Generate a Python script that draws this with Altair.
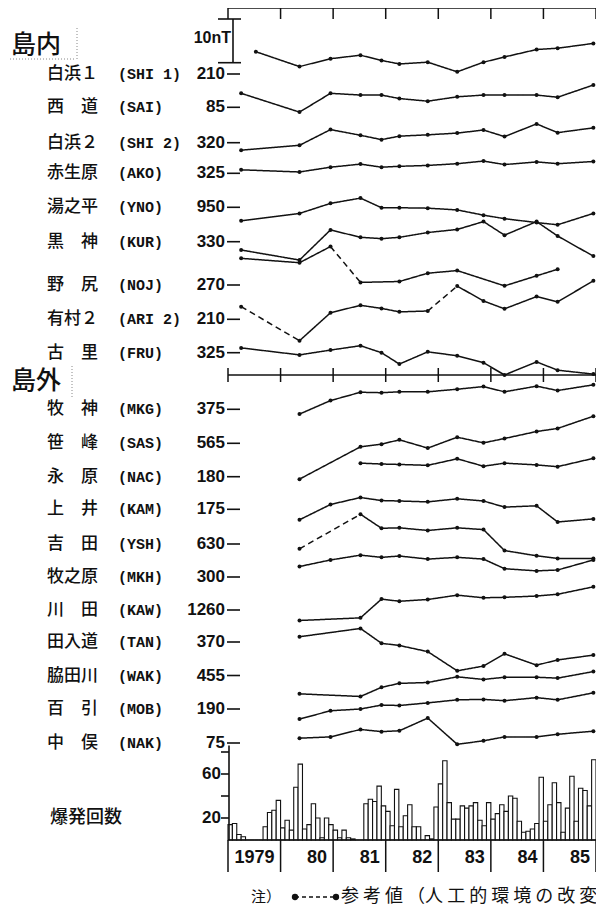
import altair as alt
import pandas as pd

# ---------------- data ----------------
# survey epochs (decimal years)
DATES = [1979.25, 1979.53, 1980.36, 1980.95, 1981.52, 1981.92, 1982.26, 1982.80,
         1983.36, 1983.86, 1984.26, 1984.87, 1985.27, 1985.95]

NAMES = ["白浜１", "西　道", "白浜２", "赤生原", "湯之平", "黒　神", "野　尻", "有村２", "古　里",
         "牧　神", "笹　峰", "永　原", "上　井", "吉　田", "牧之原", "川　田", "田入道", "脇田川",
         "百　引", "中　俣"]
CODES = ["(SHI 1)", "(SAI)", "(SHI 2)", "(AKO)", "(YNO)", "(KUR)", "(NOJ)", "(ARI 2)", "(FRU)",
         "(MKG)", "(SAS)", "(NAC)", "(KAM)", "(YSH)", "(MKH)", "(KAW)", "(TAN)", "(WAK)",
         "(MOB)", "(NAK)"]
BASE = [210, 85, 320, 325, 950, 330, 270, 210, 325,
        375, 565, 180, 175, 630, 300, 1260, 370, 455, 190, 75]

N = None
SHI1 = [N, 215.1, 211.7, 213.5, 214.3, 213.1, 212.3, 212.7, 210.5, 212.7, 213.9, 215.6, 215.9, 217.0]
SAI = [88.2, N, 83.9, 88.2, 87.8, 87.8, 87.0, 86.4, 87.4, 87.8, 87.8, 87.8, 87.3, 90.1]
SHI2 = [318.3, N, 319.4, 323.0, 321.7, 320.7, 321.5, 321.8, 322.2, 322.9, 321.4, 324.3, 322.3, 323.4]
AKO = [325.8, N, 325.3, 326.4, 327.1, 326.4, 326.6, 326.8, 327.2, 327.8, 327.0, 327.6, 327.2, 327.7]
YNO = [946.9, N, 948.6, 950.9, 952.1, 949.9, 949.9, 949.8, 949.4, 948.2, 947.4, 946.5, 946.0, 948.6]
KUR = [328.1, N, 325.8, 332.7, 331.0, 330.7, 331.0, 332.1, 332.8, 334.6, 331.5, 334.6, 331.3, 326.7]
NOJ = [276.1, N, 275.1, 278.8, 270.6, N, 270.8, 272.7, 273.3, N, 269.8, 272.1, 273.6, N]
ARI2 = [212.9, N, 205.1, 211.5, 213.2, 212.5, 211.7, 211.9, 217.6, 214.2, 212.4, 215.2, 214.0, 218.8]
FRU = [326.1, N, 324.5, 325.6, 326.6, 325.0, 322.4, 325.2, 324.3, 322.7, 319.9, 322.9, 321.0, 320.1]
MKG = [N, N, 373.9, 377.0, 378.9, 378.8, 379.0, 379.0, 379.6, 380.2, 379.0, 380.3, 379.3, 380.6]
SAS = [N, N, 556.8, N, 564.2, 564.8, 565.8, 563.9, 566.4, 565.1, 566.1, 567.7, 568.4, 571.2]
NAC = [N, N, N, N, 183.1, 182.9, 182.8, 182.6, 184.1, 182.4, 183.1, 182.7, 182.3, 184.2]
KAM = [N, N, 172.6, 176.1, 177.7, 177.0, 176.9, 176.7, 177.4, 176.9, 175.5, 175.8, 172.1, 172.8]
YSH = [N, N, 628.9, N, 636.8, 633.6, 633.7, 633.1, 633.7, 633.3, 628.5, 627.3, 626.7, 626.7]
MKH = [N, N, 302.4, 303.9, 305.0, 304.5, 304.8, 304.1, 304.5, 304.1, 301.9, 301.4, 301.6, 303.9]
KAW = [N, N, 1257.6, N, 1258.2, 1262.5, 1262.0, 1262.4, 1263.4, 1262.8, 1262.9, 1263.2, 1263.6, 1265.3]
TAN = [N, N, 371.2, N, 373.1, 369.7, 369.2, 367.8, 363.4, 364.5, 367.3, 364.7, 365.9, 367.0]
WAK = [N, N, 450.8, N, 450.2, 452.3, 453.2, 453.4, 454.7, 454.1, 454.6, 454.6, 454.4, 455.9]
MOB = [N, N, 187.7, 189.6, 190.0, 190.9, 190.8, 191.4, 192.1, 192.2, 191.9, 192.6, 192.1, 193.7]
NAK = [N, N, 76.1, 76.4, 78.1, 77.6, 77.8, 80.7, 74.7, 75.5, 76.4, 76.4, 77.0, 77.7]

SERIES = [SHI1, SAI, SHI2, AKO, YNO, KUR, NOJ, ARI2, FRU,
          MKG, SAS, NAC, KAM, YSH, MKH, KAW, TAN, WAK, MOB, NAK]
# reference-value (dashed) intervals: station index -> list of (from epoch, to epoch)
DASHED = {6: [(3, 4)], 7: [(0, 2), (7, 8)], 13: [(2, 4)]}

# monthly explosion counts
C1979 = [14, 15, 5, 3, 0, 0, 0, 0, 12, 25, 27, 36]
C1980 = [11, 18, 9, 48, 69, 10, 14, 33, 20, 2, 20, 14]
C1981 = [9, 2, 9, 2, 1, 0, 0, 33, 37, 35, 49, 31]
C1982 = [26, 13, 46, 12, 22, 32, 12, 12, 0, 4, 1, 30]
C1983 = [51, 72, 34, 19, 19, 31, 29, 31, 34, 18, 13, 34]
C1984 = [19, 24, 32, 26, 40, 38, 17, 7, 8, 10, 15, 57]
C1985 = [17, 32, 52, 34, 7, 29, 58, 17, 47, 45, 31, 73]
COUNTS = C1979 + C1980 + C1981 + C1982 + C1983 + C1984 + C1985

YEARS = [1979, 1980, 1981, 1982, 1983, 1984, 1985, 1986]
YEAR_LABELS = ["1979", "80", "81", "82", "83", "84", "85"]
COUNT_TICKS = [20, 40, 60, 80]
COUNT_TICK_LABELS = ["20", "", "60", ""]
SCALE_NT = 10

# ---------------- layout ----------------
PAD_L = 220
W, H = 368, 864
PX_NT = 4.37            # pixels per nT
ROW_Y = [66, 99.3, 134.7, 165.3, 199.3, 233.7, 277, 311.3, 344.7,
         401.3, 435.3, 468.7, 501.3, 536, 569, 602, 634, 667.5, 701, 735]
MID_AXIS_Y = 367
BAR_BASE = 832
PX_CNT = 1.1

NT_SCALE = alt.Scale(domain=[-H / PX_NT, 0], nice=False, zero=False)
CNT_SCALE = alt.Scale(domain=[(BAR_BASE - H) / PX_CNT, BAR_BASE / PX_CNT], nice=False, zero=False)
X_SCALE = alt.Scale(domain=[1979, 1986], nice=False, zero=False)

row_nt = [-r / PX_NT for r in ROW_Y]

# ---------------- tables ----------------
line_rows, pt_rows = [], []
seg = 0
for s, vals in enumerate(SERIES):
    yv = lambda i: (vals[i] - BASE[s]) + row_nt[s]
    idx = [i for i, v in enumerate(vals) if v is not None]
    for i in idx:
        pt_rows.append(dict(st=CODES[s], t=DATES[i], y=yv(i)))
    cur = None
    for a, b in zip(idx[:-1], idx[1:]):
        kind = "dashed" if (a, b) in DASHED.get(s, []) else "solid"
        if kind != cur:
            seg += 1
            cur = kind
            line_rows.append(dict(seg=seg, kind=kind, t=DATES[a], y=yv(a)))
        line_rows.append(dict(seg=seg, kind=kind, t=DATES[b], y=yv(b)))
lines_df = pd.DataFrame(line_rows)
pts_df = pd.DataFrame(pt_rows)

st_df = pd.DataFrame(dict(name=NAMES, code=CODES, lab=[str(b) for b in BASE], row=row_nt))

bars_df = pd.DataFrame(dict(
    t0=[1979 + i / 12 for i in range(len(COUNTS))],
    t1=[1979 + (i + 1) / 12 for i in range(len(COUNTS))],
    n=COUNTS, zero=[0] * len(COUNTS)))

years_df = pd.DataFrame(dict(yr=YEARS))
ylab_df = pd.DataFrame(dict(yr=[y + 1 for y in YEARS[:-1]], lab=YEAR_LABELS))
span_df = pd.DataFrame(dict(a=[YEARS[0]], b=[YEARS[-1]], zero=[0], top=[86]))
cticks_df = pd.DataFrame(dict(v=COUNT_TICKS, lab=COUNT_TICK_LABELS))
scale_top = -11 / PX_NT
scalebar_df = pd.DataFrame(dict(y1=[scale_top], y2=[scale_top - SCALE_NT]))
caps_df = pd.DataFrame(dict(y=[scale_top, scale_top - SCALE_NT]))
one = pd.DataFrame(dict(a=[0]))

X = lambda f: alt.X(f, scale=X_SCALE, axis=None)
YN = lambda f: alt.Y(f, scale=NT_SCALE, axis=None)
YC = lambda f: alt.Y(f, scale=CNT_SCALE, axis=None)
SANS = "Liberation Sans"
CJK = "Noto Sans CJK JP"
INK = "#111111"

layers = []

# series lines and points
layers.append(alt.Chart(lines_df).mark_line(color=INK, strokeWidth=1.5).encode(
    x=X("t:Q"), y=YN("y:Q"), detail="seg:N",
    strokeDash=alt.StrokeDash("kind:N", scale=alt.Scale(domain=["solid", "dashed"],
                                                        range=[[1, 0], [6, 4]]), legend=None),
    order="t:Q"))
layers.append(alt.Chart(pts_df).mark_circle(color=INK, size=16, opacity=1).encode(
    x=X("t:Q"), y=YN("y:Q")))

# station labels
layers.append(alt.Chart(st_df).mark_rule(color=INK, strokeWidth=1.6).encode(
    x=alt.value(-1), x2=alt.value(12), y=YN("row:Q")))
layers.append(alt.Chart(st_df).mark_text(align="right", baseline="middle", font=SANS,
                                         fontSize=17, fontWeight="bold", color=INK).encode(
    x=alt.value(-3), y=YN("row:Q"), text="lab:N"))
layers.append(alt.Chart(st_df).mark_text(align="left", baseline="middle", font=CJK,
                                         fontSize=17, fontWeight=500, color=INK).encode(
    x=alt.value(-181), y=YN("row:Q"), text="name:N"))
layers.append(alt.Chart(st_df).mark_text(align="left", baseline="middle", font="Liberation Mono",
                                         fontSize=15, fontWeight="bold", color=INK).encode(
    x=alt.value(-110), y=YN("row:Q"), text="code:N"))

# top and middle time axes
layers.append(alt.Chart(span_df).mark_rule(color=INK, strokeWidth=1.5).encode(
    x=X("a:Q"), x2="b:Q", y=alt.value(0)))
layers.append(alt.Chart(years_df).mark_rule(color=INK, strokeWidth=1.5).encode(
    x=X("yr:Q"), y=alt.value(0), y2=alt.value(11)))
layers.append(alt.Chart(span_df).mark_rule(color=INK, strokeWidth=1.5).encode(
    x=X("a:Q"), x2="b:Q", y=alt.value(MID_AXIS_Y)))
layers.append(alt.Chart(years_df).mark_rule(color=INK, strokeWidth=1.5).encode(
    x=X("yr:Q"), y=alt.value(MID_AXIS_Y - 7), y2=alt.value(MID_AXIS_Y + 7)))

# 10 nT scale bar
layers.append(alt.Chart(scalebar_df).mark_rule(color=INK, strokeWidth=1.6).encode(
    x=alt.value(5), y=YN("y1:Q"), y2="y2:Q"))
layers.append(alt.Chart(caps_df).mark_rule(color=INK, strokeWidth=1.6).encode(
    x=alt.value(-10), x2=alt.value(13), y=YN("y:Q")))
layers.append(alt.Chart(one).mark_text(text="10nT", align="right", baseline="middle", font=SANS,
                                       fontSize=16, fontWeight="bold", color=INK).encode(
    x=alt.value(3), y=alt.value(30)))

# group headings
for txt, yy in [("島内", 37), ("島外", 373)]:
    layers.append(alt.Chart(one).mark_text(text=txt, align="left", baseline="middle", font=CJK,
                                           fontSize=25, fontWeight=500, color=INK).encode(
        x=alt.value(-217), y=alt.value(yy)))
layers.append(alt.Chart(one).mark_rule(color="#888", strokeDash=[1, 2]).encode(
    x=alt.value(-218), x2=alt.value(-153), y=alt.value(51)))
layers.append(alt.Chart(one).mark_rule(color="#888", strokeDash=[1, 2]).encode(
    x=alt.value(-151), y=alt.value(20), y2=alt.value(52)))
layers.append(alt.Chart(one).mark_rule(color="#888", strokeDash=[1, 2]).encode(
    x=alt.value(-156), y=alt.value(358), y2=alt.value(390)))

# explosion counts
layers.append(alt.Chart(bars_df).mark_rect(fill="white", stroke=INK, strokeWidth=1.1).encode(
    x=X("t0:Q"), x2="t1:Q", y=YC("n:Q"), y2="zero:Q"))
layers.append(alt.Chart(span_df).mark_rule(color=INK, strokeWidth=1.6).encode(
    x=X("a:Q"), x2="b:Q", y=YC("zero:Q")))
layers.append(alt.Chart(span_df).mark_rule(color=INK, strokeWidth=1.6).encode(
    x=alt.value(1), y=YC("zero:Q"), y2="top:Q"))
layers.append(alt.Chart(cticks_df).mark_rule(color=INK, strokeWidth=1.6).encode(
    x=alt.value(-7), x2=alt.value(1), y=YC("v:Q")))
layers.append(alt.Chart(cticks_df).mark_text(align="right", baseline="middle", font=SANS,
                                             fontSize=17, fontWeight="bold", color=INK).encode(
    x=alt.value(-7), y=YC("v:Q"), text="lab:N"))
layers.append(alt.Chart(years_df).mark_rule(color=INK, strokeWidth=1.5).encode(
    x=X("yr:Q"), y=alt.value(BAR_BASE), y2=alt.value(H)))
layers.append(alt.Chart(ylab_df).mark_text(align="right", baseline="middle", font=SANS,
                                           fontSize=18, fontWeight="bold", color=INK, dx=-6).encode(
    x=X("yr:Q"), y=alt.value(850), text="lab:N"))
layers.append(alt.Chart(one).mark_text(text="爆発回数", align="left", baseline="middle", font=CJK,
                                       fontSize=18, fontWeight=500, color=INK).encode(
    x=alt.value(-178), y=alt.value(810)))

# note
layers.append(alt.Chart(one).mark_text(text="注）", align="left", baseline="middle", font=CJK,
                                       fontSize=15, color=INK).encode(
    x=alt.value(23), y=alt.value(889)))
layers.append(alt.Chart(one).mark_rule(color=INK, strokeWidth=1.3, strokeDash=[4, 3]).encode(
    x=alt.value(67), x2=alt.value(108), y=alt.value(889)))
layers.append(alt.Chart(pd.DataFrame(dict(px=[67, 108]))).mark_circle(color=INK, size=40, opacity=1)
              .encode(x=alt.X("px:Q", scale=None, axis=None), y=alt.value(889)))
layers.append(alt.Chart(one).mark_text(text="参 考 値 （人 工 的 環 境 の 改 変", align="left",
                                       baseline="middle", font=CJK, fontSize=18, color=INK).encode(
    x=alt.value(113), y=alt.value(889)))

chart = alt.layer(*layers).resolve_scale(y="independent").properties(
    width=W, height=H,
    autosize=alt.AutoSizeParams(type="none"),
    padding={"left": PAD_L, "top": 0, "right": 0, "bottom": 39},
    background="white",
).configure_view(stroke=None)

chart.save("out.html", embed_options={"renderer": "svg", "actions": False})
